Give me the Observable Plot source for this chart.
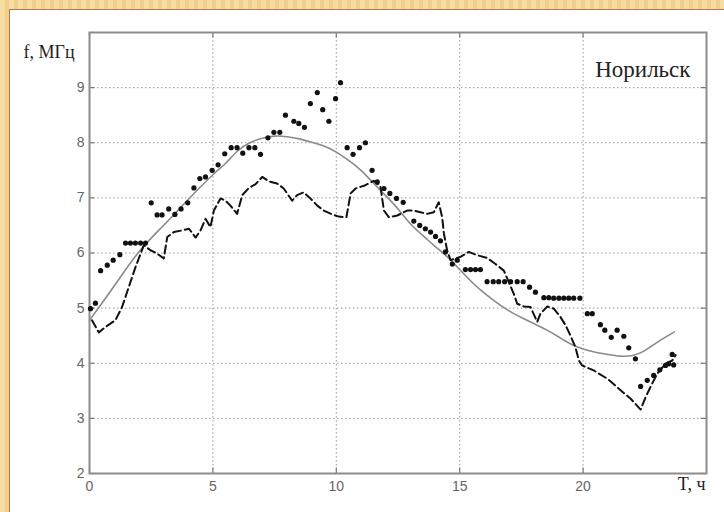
<!DOCTYPE html>
<html>
<head>
<meta charset="utf-8">
<script src="https://cdn.jsdelivr.net/npm/d3@7"></script>
<script src="https://cdn.jsdelivr.net/npm/@observablehq/plot@0.6"></script>
<style>
  html, body { margin: 0; padding: 0; }
  body {
    width: 724px; height: 512px; position: relative; overflow: hidden;
    background: repeating-linear-gradient(90deg, #f7dca2 0px, #f7dca2 5px, #f0cf8c 5px, #f0cf8c 9px);
  }
  #panel {
    position: absolute; left: 9px; top: 9px; right: 0; bottom: 0;
    background: #fff; border-left: 1px solid #b8754e; border-top: 1px solid #b8754e;
  }
  #chart { position: absolute; left: 0; top: 0; }
</style>
</head>
<body>
<div id="panel"></div>
<div id="chart"></div>
<script>
// Measured values (dots): hour, MHz
const obsT = [0.04,0.24,0.45,0.72,0.96,1.23,1.46,1.66,1.86,2.07,2.27,2.5,2.74,2.94,3.21,3.46,3.71,3.98,4.23,4.47,4.70,4.97,5.21,5.48,5.74,5.98,6.21,6.46,6.70,6.93,7.23,7.47,7.71,7.94,8.28,8.48,8.71,8.95,9.23,9.45,9.70,9.97,10.17,10.44,10.68,10.94,11.18,11.45,11.66,11.93,12.17,12.44,12.71,13.14,13.38,13.61,13.82,14.02,14.22,14.42,14.7,14.9,15.23,15.44,15.64,15.84,16.11,16.36,16.58,16.82,17.06,17.33,17.57,17.83,18.07,18.41,18.61,18.81,19.02,19.22,19.42,19.62,19.87,20.17,20.37,20.70,20.88,21.14,21.38,21.65,21.85,22.12,22.33,22.6,22.86,23.11,23.34,23.47,23.61,23.67];
const obsF = [4.99,5.09,5.68,5.78,5.87,5.97,6.18,6.18,6.18,6.18,6.18,6.91,6.69,6.69,6.80,6.70,6.80,6.91,7.18,7.35,7.38,7.50,7.60,7.80,7.91,7.91,7.81,7.91,7.91,7.79,8.09,8.19,8.19,8.50,8.39,8.35,8.28,8.71,8.91,8.60,8.39,8.80,9.09,7.91,7.79,7.91,8.0,7.50,7.29,7.17,7.08,6.99,6.92,6.58,6.50,6.44,6.38,6.30,6.22,6.02,5.80,5.87,5.70,5.70,5.70,5.70,5.48,5.48,5.48,5.48,5.48,5.48,5.48,5.38,5.29,5.19,5.19,5.18,5.18,5.18,5.18,5.18,5.18,4.90,4.90,4.70,4.60,4.47,4.60,4.49,4.28,4.08,3.58,3.69,3.78,3.88,3.96,3.99,4.16,3.97];

// Model 1 (dashed line)
const dashT = [0.1,0.38,0.65,1.05,1.32,1.59,1.86,2.2,2.47,2.74,3.01,3.15,3.42,3.75,4.03,4.3,4.5,4.7,4.9,5.04,5.31,5.51,5.71,5.98,6.19,6.46,6.73,7.0,7.27,7.6,7.87,8.21,8.41,8.68,8.95,9.23,9.49,9.83,10.1,10.41,10.58,10.78,11.18,11.52,11.79,11.93,12.13,12.47,12.87,13.14,13.41,13.68,13.95,14.15,14.29,14.36,14.49,14.63,15.03,15.37,15.71,16.11,16.45,16.79,16.99,17.19,17.33,17.6,17.87,18.14,18.27,18.55,18.81,19.08,19.29,19.49,19.69,19.83,19.96,20.43,20.98,21.52,21.92,22.33,22.53,22.73,23.0,23.34,23.61,23.75];
const dashF = [4.78,4.56,4.66,4.78,5.02,5.38,5.74,6.14,6.05,5.99,5.90,6.29,6.38,6.41,6.44,6.28,6.41,6.62,6.47,6.77,6.99,6.95,6.86,6.71,7.05,7.18,7.25,7.38,7.30,7.26,7.17,6.95,7.05,7.10,6.99,6.86,6.77,6.70,6.66,6.65,7.08,7.17,7.23,7.31,7.20,6.77,6.65,6.68,6.77,6.77,6.74,6.71,6.74,6.92,6.65,6.35,6.05,5.87,5.93,6.02,5.96,5.91,5.80,5.68,5.47,5.26,5.08,5.03,5.02,4.75,4.90,5.03,4.99,4.84,4.69,4.50,4.29,4.05,3.96,3.87,3.72,3.51,3.36,3.16,3.38,3.57,3.81,3.99,4.05,4.15];

// Model 2 (smooth grey curve)
const fitT = [0,1,2,3,4,5,5.5,6,6.5,7,7.5,8,8.5,9,9.5,10,10.5,11,11.5,12,12.5,13,13.5,14,14.5,15,15.5,16,16.5,17,17.5,18,18.5,19,19.5,20,20.5,21,21.5,22,22.5,23,23.7];
const fitF = [4.78,5.40,6.02,6.50,6.97,7.42,7.62,7.85,8.00,8.08,8.12,8.11,8.07,8.01,7.94,7.83,7.68,7.50,7.27,7.04,6.80,6.53,6.32,6.12,5.93,5.70,5.47,5.27,5.10,4.95,4.83,4.72,4.61,4.48,4.35,4.26,4.20,4.16,4.13,4.14,4.23,4.38,4.57];

const xTicks = [0,5,10,15,20];
const yTicks = [2,3,4,5,6,7,8,9];

const obs = obsT.map((t,i) => ({t, f: obsF[i]}));
const dash = dashT.map((t,i) => ({t, f: dashF[i]}));
const fit = fitT.map((t,i) => ({t, f: fitF[i]}));

const serif = "'Liberation Serif', 'DejaVu Serif', serif";
const sans = "'Liberation Sans', Arial, sans-serif";

const chart = Plot.plot({
  width: 724,
  height: 512,
  marginLeft: 89,
  marginRight: 18,
  marginTop: 32,
  marginBottom: 39,
  style: {background: "transparent", fontFamily: sans},
  x: {domain: [0, 25]},
  y: {domain: [2, 10]},
  marks: [
    Plot.gridX(xTicks.filter(d => d > 0), {stroke: "#9a9a9a", strokeOpacity: 1, strokeDasharray: "1.5,2.5"}),
    Plot.gridY(yTicks.filter(d => d > 2), {stroke: "#9a9a9a", strokeOpacity: 1, strokeDasharray: "1.5,2.5"}),
    Plot.ruleX(xTicks, {y1: 2, y2: 2.1, stroke: "#777", strokeWidth: 1.2}),
    Plot.ruleX(xTicks, {y1: 9.9, y2: 10, stroke: "#777", strokeWidth: 1.2}),
    Plot.ruleY(yTicks, {x1: 0, x2: 0.22, stroke: "#777", strokeWidth: 1.2}),
    Plot.ruleY(yTicks, {x1: 24.78, x2: 25, stroke: "#777", strokeWidth: 1.2}),
    Plot.frame({stroke: "#8c8c8c", strokeWidth: 2}),
    Plot.line(fit, {x: "t", y: "f", stroke: "#8a8a8a", strokeWidth: 1.6, curve: "natural"}),
    Plot.line(dash, {x: "t", y: "f", stroke: "#111", strokeWidth: 2, strokeDasharray: "8,4"}),
    Plot.dot(obs, {x: "t", y: "f", r: 2.6, fill: "#111", stroke: "none"}),
    Plot.axisX(xTicks, {tickSize: 0, tickPadding: 8, fontSize: 14, fill: "#666", label: null, tickFormat: d3.format("d")}),
    Plot.axisY(yTicks, {tickSize: 0, tickPadding: 5, fontSize: 14, fill: "#666", label: null, tickFormat: d3.format("d")}),
    Plot.text(["f, МГц"], {frameAnchor: "top-left", textAnchor: "start", dx: -66, dy: 13, fontSize: 18, fontFamily: serif, fill: "#222"}),
    Plot.text(["Норильск"], {frameAnchor: "top-right", textAnchor: "end", dx: -16, dy: 28, fontSize: 23, fontFamily: serif, fill: "#222"}),
    Plot.text(["T, ч"], {frameAnchor: "bottom-right", textAnchor: "end", dx: -1, dy: 16, fontSize: 18, fontFamily: serif, fill: "#222"})
  ]
});
document.getElementById("chart").appendChild(chart);
</script>
</body>
</html>
